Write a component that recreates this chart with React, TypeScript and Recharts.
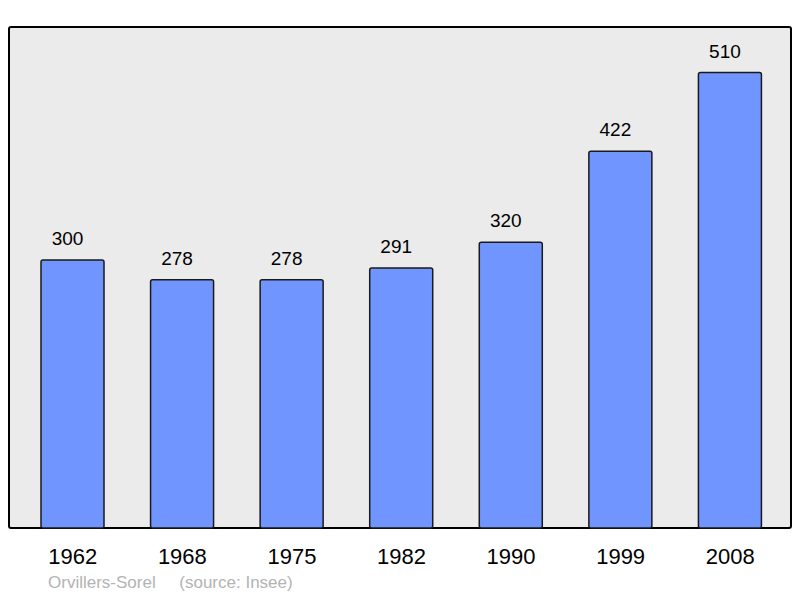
import { BarChart, Bar, XAxis, YAxis, LabelList } from 'recharts'

const years = ['1962', '1968', '1975', '1982', '1990', '1999', '2008']
const population = [300, 278, 278, 291, 320, 422, 510]
const place = 'Orvillers-Sorel'
const source = '(source: Insee)'

const data = years.map((year, i) => ({ year, population: population[i] }))

const FONT = '"Liberation Sans", Arial, sans-serif'

function YearTick(props: any): JSX.Element {
  const { x, y, payload } = props
  return (
    <text x={x} y={y} dy={28} textAnchor="middle" fontSize={22} fontFamily={FONT} fill="#000">
      {payload.value}
    </text>
  )
}

function ValueLabel(props: any): JSX.Element {
  const { x, y, width, value } = props
  return (
    <text x={x + width / 2 - 5} y={y - 15} textAnchor="middle" fontSize={19} fontFamily={FONT} fill="#000">
      {value}
    </text>
  )
}

function App(): JSX.Element {
  return (
    <div style={{ position: 'absolute', left: 0, top: 0, width: 800, height: 598, background: '#fff' }}>
      <div
        style={{
          position: 'absolute',
          left: 8,
          top: 26,
          width: 780,
          height: 499,
          border: '2px solid #000',
          borderRadius: 3,
          background: '#ebebeb'
        }}
      />
      <div style={{ position: 'absolute', left: 0, top: 0 }}>
        <BarChart width={800} height={598} data={data} margin={{ top: 27, right: 9, bottom: 40, left: 9 }}>
          <XAxis
            dataKey="year"
            axisLine={false}
            tickLine={false}
            tick={<YearTick />}
            height={30}
            padding={{ left: 9, right: 6 }}
            interval={0}
          />
          <YAxis hide domain={[0, 561]} />
          <Bar
            dataKey="population"
            fill="#7095ff"
            stroke="#1a1a1a"
            strokeWidth={1.5}
            barSize={63}
            radius={2}
            isAnimationActive={false}
          >
            <LabelList dataKey="population" content={<ValueLabel />} />
          </Bar>
        </BarChart>
      </div>
      <div
        style={{
          position: 'absolute',
          left: 48,
          top: 573,
          fontFamily: FONT,
          fontSize: 17,
          color: '#b3b3b3',
          whiteSpace: 'pre'
        }}
      >
        {place + '     ' + source}
      </div>
    </div>
  )
}

export default App
